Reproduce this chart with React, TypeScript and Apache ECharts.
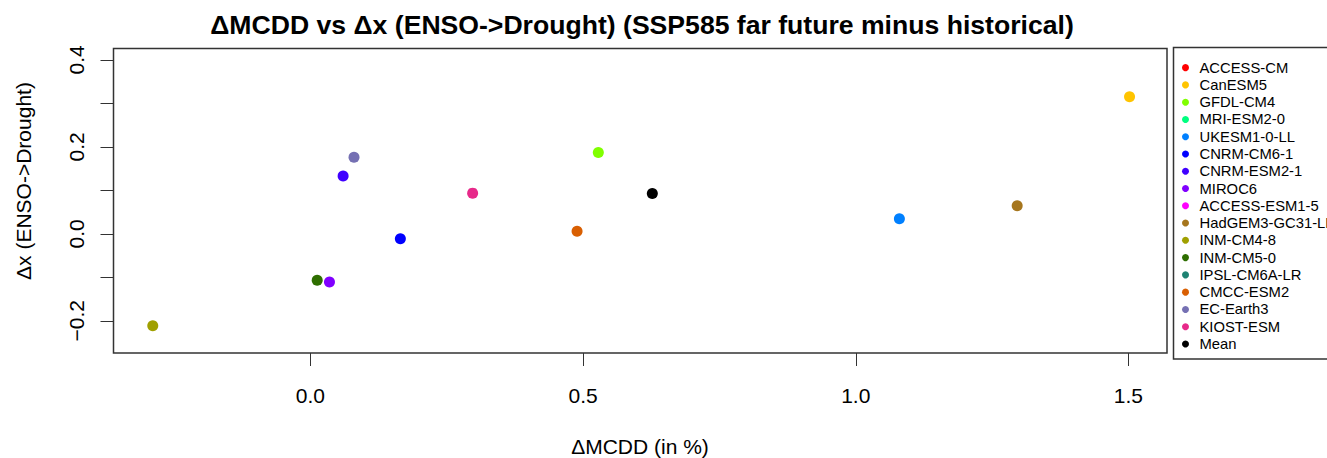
import React, { useEffect, useRef } from "react";
import * as echarts from "echarts";

const models = [
  "ACCESS-CM", "CanESM5", "GFDL-CM4", "MRI-ESM2-0", "UKESM1-0-LL", "CNRM-CM6-1",
  "CNRM-ESM2-1", "MIROC6", "ACCESS-ESM1-5", "HadGEM3-GC31-LL", "INM-CM4-8",
  "INM-CM5-0", "IPSL-CM6A-LR", "CMCC-ESM2", "EC-Earth3", "KIOST-ESM", "Mean",
];
const colors = [
  "#FF0000", "#FFC400", "#80FF00", "#00FF80", "#0080FF", "#0000FF",
  "#4000FF", "#8000FF", "#FF00FF", "#A6761D", "#A0A000",
  "#2E6E00", "#1E8272", "#D95F02", "#7570B3", "#E7298A", "#000000",
];
// ΔMCDD (in %) — null where no point is drawn
const dMCDD: (number | null)[] = [
  null, 1.502, 0.528, null, 1.080, 0.165,
  0.060, 0.035, null, 1.296, -0.289,
  0.0125, null, 0.489, 0.080, 0.2975, 0.627,
];
// Δx (ENSO->Drought)
const dX: (number | null)[] = [
  null, 0.315, 0.187, null, 0.0345, -0.0115,
  0.133, -0.111, null, 0.0644, -0.2115,
  -0.107, null, 0.006, 0.176, 0.0935, 0.0927,
];
const xTicks = [0, 0.5, 1.0, 1.5];
const yTicks = [-0.2, -0.1, 0, 0.1, 0.2, 0.3, 0.4];
const yLabels = [-0.2, 0, 0.2, 0.4];

const FONT = "Liberation Sans, Arial, sans-serif";

export default function App() {
  const ref = useRef<HTMLDivElement>(null);
  useEffect(() => {
    if (!ref.current) return;
    const chart = echarts.init(ref.current, undefined, { renderer: "svg" });
    const fmt = (v: number) => (v < 0 ? "\u2212" + Math.abs(v).toFixed(1) : v.toFixed(1));
    const series = models.map((name, i) => ({
      name,
      type: "scatter",
      symbol: "circle",
      symbolSize: 11,
      itemStyle: { color: colors[i], opacity: 1 },
      data: dMCDD[i] != null && dX[i] != null ? [[dMCDD[i], dX[i]]] : [],
    }));
    chart.setOption({
      animation: false,
      textStyle: { fontFamily: FONT },
      grid: {
        left: 113.5, top: 48.5, right: 160, bottom: 105,
        show: true, borderColor: "#333", borderWidth: 1.5, containLabel: false,
      },
      xAxis: {
        type: "value", min: -0.361, max: 1.5707,
        axisLine: { show: false, onZero: false },
        splitLine: { show: false },
        axisTick: { show: true, length: 13, customValues: xTicks, lineStyle: { color: "#333", width: 1 } },
        axisLabel: { customValues: xTicks, formatter: fmt, fontSize: 21, color: "#000", margin: 32, fontFamily: FONT },
      },
      yAxis: {
        type: "value", min: -0.274, max: 0.426,
        axisLine: { show: false, onZero: false },
        splitLine: { show: false },
        axisTick: { show: true, length: 13, customValues: yTicks, lineStyle: { color: "#333", width: 1 } },
        axisLabel: { customValues: yLabels, formatter: fmt, fontSize: 21, color: "#000", margin: 27, rotate: 90, fontFamily: FONT },
      },
      legend: {
        orient: "vertical",
        left: 1182,
        top: 59,
        padding: 0,
        itemWidth: 18,
        itemHeight: 7,
        itemGap: 0,
        icon: "circle",
        data: models,
        textStyle: { fontSize: 14.8, lineHeight: 17.27, color: "#000", fontFamily: FONT },
        selectedMode: false,
      },
      graphic: [
        {
          type: "rect", silent: true,
          shape: { x: 1173.5, y: 47.5, width: 220, height: 311.5 },
          style: { fill: "none", stroke: "#333", lineWidth: 1.5 },
        },
        {
          type: "text", x: 642, y: 25,
          style: {
            text: "\u0394MCDD vs \u0394x (ENSO->Drought) (SSP585 far future minus historical)",
            font: `bold 26.6px ${FONT}`, fill: "#000", textAlign: "center", textVerticalAlign: "middle",
          },
        },
        {
          type: "text", x: 640, y: 446,
          style: {
            text: "\u0394MCDD (in %)", font: `21px ${FONT}`, fill: "#000",
            textAlign: "center", textVerticalAlign: "middle",
          },
        },
        {
          type: "text", x: 23, y: 181, rotation: Math.PI / 2,
          style: {
            text: "\u0394x (ENSO->Drought)", font: `21px ${FONT}`, fill: "#000",
            textAlign: "center", textVerticalAlign: "middle",
          },
        },
      ],
      series,
    });
    return () => chart.dispose();
  }, []);
  return (
    <div
      ref={ref}
      style={{ position: "fixed", left: 0, top: 0, width: 1327, height: 458, background: "#fff" }}
    />
  );
}
